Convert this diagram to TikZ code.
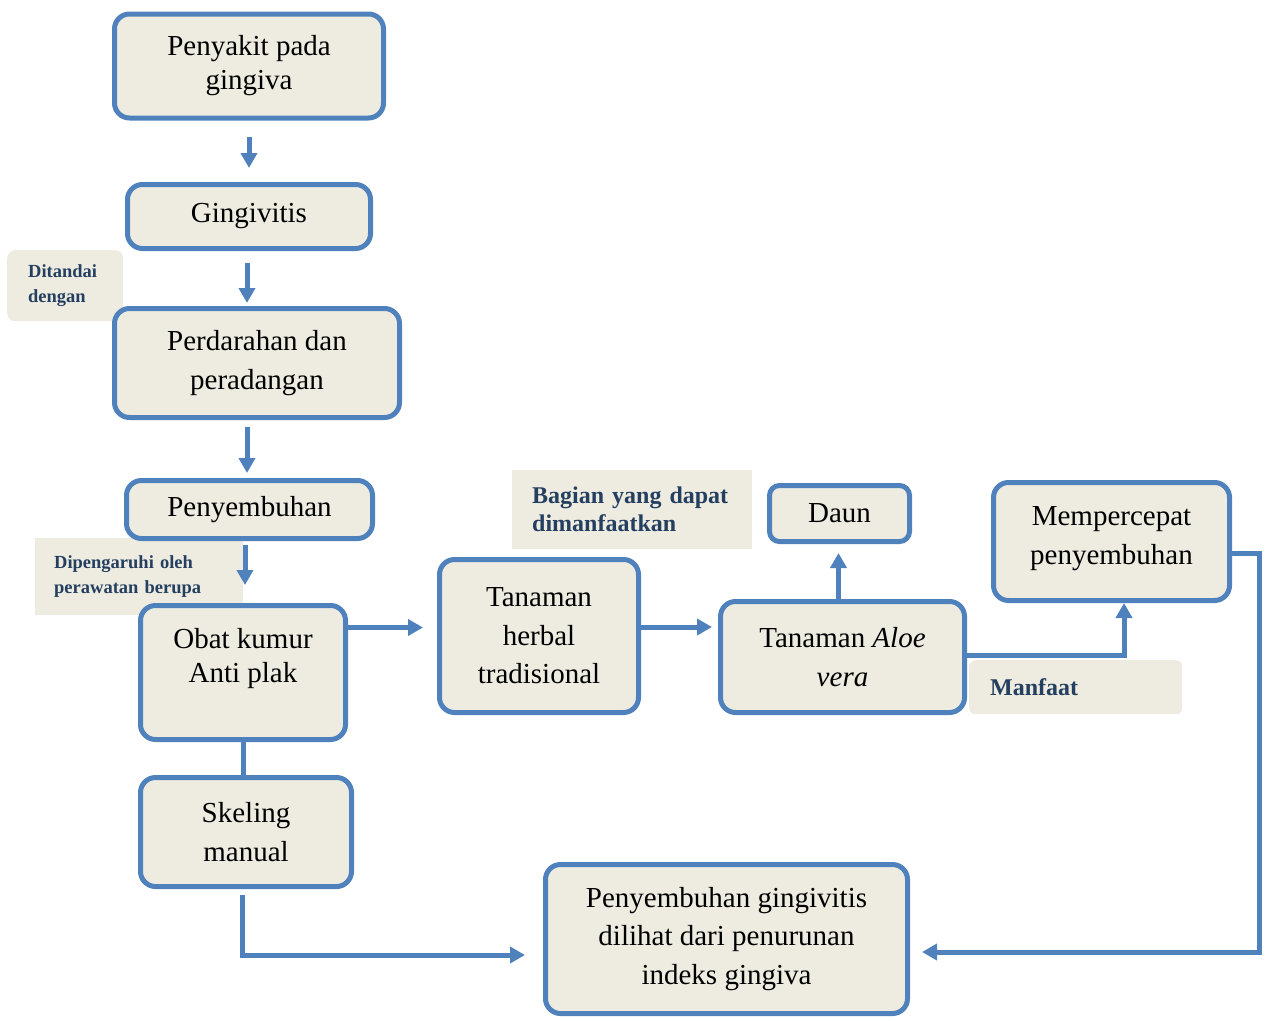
\documentclass[tikz,border=0pt]{standalone}
\usepackage{fontspec}
\setmainfont{Liberation Serif}
\usetikzlibrary{arrows.meta}
\pgfdeclarelayer{back}
\pgfsetlayers{back,main}
\definecolor{boxblue}{HTML}{4F81BD}
\definecolor{boxfill}{HTML}{EEECE1}
\definecolor{labelblue}{HTML}{243F60}
\tikzset{
  box/.style={draw=boxblue, line width=5pt, fill=boxfill, rounded corners=15pt,
    align=center, inner sep=2pt, font=\fontsize{29}{38.5}\selectfont},
  lbl/.style={fill=boxfill, text=labelblue, align=left, anchor=north west,
    inner sep=0pt, font=\bfseries\fontsize{18.5}{25}\selectfont},
  arr/.style={draw=boxblue, line width=5pt, -{Triangle[length=15pt,width=16pt]}},
}

\begin{document}
\begin{tikzpicture}[x=1pt,y=-1pt]
  \useasboundingbox (0,0) rectangle (1265,1020);

  % left column
  \node [box, minimum width=269pt, minimum height=104pt, font=\fontsize{29}{34}\selectfont] at (249,66) (penyakit) {Penyakit pada\\gingiva};
  \node [box, minimum width=243pt, minimum height=64pt] at (249,216.5) (gingivitis) {Gingivitis};
  \node [box, minimum width=285pt, minimum height=109pt] at (257,363) (perdarahan) {Perdarahan dan\\peradangan};
  \node [box, minimum width=246pt, minimum height=58pt] at (249.5,509.5) (penyembuhan) {Penyembuhan};
  \node [box, minimum width=205pt, minimum height=134pt, font=\fontsize{29}{34}\selectfont] at (243,672.5) (obat) {Obat kumur\\Anti plak\\\mbox{}};
  \node [box, minimum width=211pt, minimum height=109pt] at (246,832) (skeling) {Skeling\\manual};

  % right part
  \node [box, minimum width=199pt, minimum height=153pt] at (539,636) (herbal) {Tanaman\\herbal\\tradisional};
  \node [box, minimum width=244pt, minimum height=111pt] at (842.5,657) (aloe) {Tanaman \textit{Aloe}\\\textit{vera}};
  \node [box, minimum width=140pt, minimum height=56pt, rounded corners=10pt] at (839.5,513.5) (daun) {Daun};
  \node [box, minimum width=236pt, minimum height=118pt, text depth=12pt] at (1111.5,541.5) (mempercepat) {Mempercepat\\penyembuhan};
  \node [box, minimum width=362pt, minimum height=149pt] at (726.5,939) (hasil) {Penyembuhan gingivitis\\dilihat dari penurunan\\indeks gingiva};

  \begin{pgfonlayer}{back}
    \node [lbl, rounded corners=8pt, minimum width=116pt, minimum height=71pt, text width=74pt] at (7,250) (ditandai) {Ditandai\\dengan};
    \node [lbl, minimum width=208pt, minimum height=77pt, text width=170pt] at (35,538) (dipengaruhi) {Dipengaruhi oleh\\perawatan berupa};
    \node [lbl, minimum width=240pt, minimum height=79pt, text width=200pt, font=\bfseries\fontsize{24}{28}\selectfont] at (512,470) (bagian) {Bagian yang dapat\\dimanfaatkan};
    \node [lbl, rounded corners=6pt, minimum width=213pt, minimum height=54pt, text width=171pt, font=\bfseries\fontsize{24}{28}\selectfont] at (969,660) (manfaat) {Manfaat};
  \end{pgfonlayer}

  \draw [arr, shorten <=16pt, shorten >=14pt] (penyakit.south) -- (penyakit.south |- gingivitis.north);
  \draw [arr, shorten <=12pt, shorten >=3pt] ([xshift=-2pt]gingivitis.south) -- ([xshift=-2pt]gingivitis.south |- perdarahan.north);
  \draw [arr, shorten <=7pt, shorten >=5pt] ([xshift=-10pt]perdarahan.south) -- ([xshift=-10pt]perdarahan.south |- penyembuhan.north);
  \draw [arr, shorten <=4pt, shorten >=18pt] ([xshift=-4.5pt]penyembuhan.south) -- ([xshift=-4.5pt]penyembuhan.south |- obat.north);

  \draw [arr, shorten >=14pt] ([yshift=45pt]obat.east) -- ([yshift=45pt]obat.east -| herbal.west);
  \draw [arr, shorten >=6pt] ([yshift=9pt]herbal.east) -- ([yshift=9pt]herbal.east -| aloe.west);
  \draw [arr, shorten >=9pt] ([xshift=-4pt]aloe.north) -- ([xshift=-4pt]aloe.north |- daun.south);
  \draw [arr] ([yshift=2pt]aloe.east) -| ([xshift=12.5pt]mempercepat.south);

  \coordinate (belok) at (1259,952);
  \draw [arr, shorten >=12pt] ([yshift=-11.5pt]mempercepat.east) -| (belok) -- (belok -| hasil.east);

  \path [draw=boxblue, line width=5pt] (obat.south) edge (obat.south |- skeling.north);
  \draw [arr, shorten <=6pt, shorten >=18pt] ([xshift=-4pt]skeling.south) |- ([yshift=-16pt]hasil.west);

\end{tikzpicture}
\end{document}
